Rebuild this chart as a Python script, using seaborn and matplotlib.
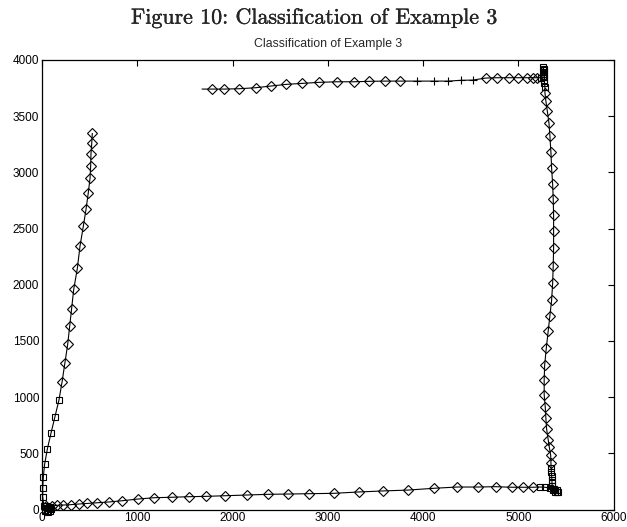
import matplotlib
matplotlib.use("Agg")
import matplotlib.pyplot as plt
import matplotlib.patheffects as pe
import seaborn as sns
import pandas as pd

# Trajectory samples (x, y) in travel order, with the class label of each sample:
# "D" = diamond class, "s" = square class, "+" = plus class, "-" = unlabelled start.
x_top = [1680, 1788, 1914, 2068, 2243, 2401, 2564, 2732, 2911, 3100, 3275, 3436, 3597, 3761,
         3940, 4115, 4265, 4398, 4521,
         4657, 4779, 4905, 5000, 5088, 5151, 5199]
y_top = [3741, 3741, 3741, 3744, 3753, 3768, 3783, 3792, 3801, 3806, 3806, 3810, 3812, 3812,
         3812, 3812, 3812, 3819, 3821,
         3839, 3842, 3842, 3842, 3842, 3842, 3842]
c_top = ["-"] + ["D"] * 13 + ["+"] * 5 + ["D"] * 7

x_corner_tr = [5235, 5255, 5262, 5265, 5260, 5270, 5274, 5270, 5275, 5275, 5280]
y_corner_tr = [3842, 3860, 3890, 3920, 3935, 3910, 3875, 3845, 3820, 3792, 3762]
c_corner_tr = ["s"] * 11

x_right = [5280, 5290, 5304, 5322, 5332, 5343, 5350, 5361, 5367, 5371, 5371, 5371, 5367, 5361,
           5350, 5332, 5315, 5294, 5277, 5272, 5272, 5283, 5290, 5298, 5315, 5325, 5340, 5343]
y_right = [3708, 3634, 3548, 3441, 3326, 3178, 3038, 2896, 2760, 2620, 2480, 2329, 2169, 2013,
           1861, 1722, 1585, 1434, 1283, 1152, 1021, 915, 811, 713, 618, 559, 485, 411]
c_right = ["D"] * 28

x_corner_br = [5345, 5348, 5350, 5352, 5354, 5356, 5370, 5390, 5410, 5420, 5405, 5385, 5360,
               5330, 5280, 5227]
y_corner_br = [370, 335, 300, 265, 235, 210, 185, 175, 170, 160, 155, 160, 175,
               190, 198, 200]
c_corner_br = ["s"] * 16

x_bottom = [5157, 5052, 4931, 4763, 4574, 4359, 4118, 3845, 3576, 3324, 3065, 2806, 2579, 2369,
            2149, 1921, 1722, 1543, 1368, 1179, 1005, 843, 703, 580, 476, 388, 301, 224, 154,
            102, 39]
y_bottom = [198, 198, 198, 203, 200, 200, 189, 173, 165, 156, 144, 141, 138, 135,
            129, 123, 117, 114, 109, 105, 93, 78, 67, 60, 55, 49, 43, 40, 37,
            34, 31]
c_bottom = ["D"] * 31

x_corner_bl = [70, 50, 30, 60, 85, 95, 60, 35, 55, 80, 40, 20]
y_corner_bl = [25, 10, -10, -20, -10, 5, 15, 0, -15, 20, 35, 30]
c_corner_bl = ["s"] * 12

x_left = [7, 7, 14, 28, 56, 94, 136, 178,
          210, 241, 270, 291, 312, 333, 371, 399, 434, 462, 486, 504, 511, 514, 522, 528]
y_left = [114, 189, 292, 405, 538, 678, 826, 974,
          1132, 1306, 1472, 1633, 1787, 1959, 2146, 2344, 2522, 2671, 2819, 2947, 3059, 3163,
          3258, 3347]
c_left = ["s"] * 8 + ["D"] * 16

x_vals = x_top + x_corner_tr + x_right + x_corner_br + x_bottom + x_corner_bl + x_left
y_vals = y_top + y_corner_tr + y_right + y_corner_br + y_bottom + y_corner_bl + y_left
classes = c_top + c_corner_tr + c_right + c_corner_br + c_bottom + c_corner_bl + c_left

x_ticks = [0, 1000, 2000, 3000, 4000, 5000, 6000]
y_ticks = [0, 500, 1000, 1500, 2000, 2500, 3000, 3500, 4000]

df = pd.DataFrame({"x": x_vals, "y": y_vals, "cls": classes, "order": range(len(x_vals))})

sns.set_style("white")
plt.rcParams["font.family"] = ["Liberation Sans", "DejaVu Sans"]

fig = plt.figure(figsize=(6.27, 5.27), dpi=100)
ax = fig.add_axes([0.067, 0.0332, 0.9115, 0.853])

# connecting path
sns.lineplot(data=df, x="x", y="y", sort=False, estimator=None, color="black",
             linewidth=0.8, ax=ax, zorder=2)

marker_style = {
    "D": dict(marker="D", ms=4.6, mfc="none", mec="black", mew=0.8),
    "s": dict(marker="s", ms=4.4, mfc="none", mec="black", mew=0.8),
    "+": dict(marker="+", ms=6, mec="black", mew=0.8),
}
for cls, style in marker_style.items():
    sub = df[df["cls"] == cls]
    sns.lineplot(data=sub, x="x", y="y", sort=False, estimator=None, linestyle="",
                 ax=ax, clip_on=False, zorder=3, **style)

ax.set_xlim(0, 6000)
ax.set_ylim(0, 4000)
ax.set_xticks(x_ticks)
ax.set_yticks(y_ticks)
ax.set_xticklabels([str(t) for t in x_ticks])
ax.set_yticklabels([str(t) for t in y_ticks])
ax.set_xlabel("")
ax.set_ylabel("")
ax.tick_params(direction="in", length=4.5, width=0.8, top=True, right=True,
               labelsize=8.5, colors="black", pad=2)
for sp in ax.spines.values():
    sp.set_visible(True)
    sp.set_color("black")
    sp.set_linewidth(0.9)

ax.set_title("Classification of Example 3", fontsize=8.8, pad=9)
fig.text(0.5, 0.966, "Figure 10: Classification of Example 3", ha="center", va="center",
         fontsize=15.8, family=["cmr10", "DejaVu Serif"],
         path_effects=[pe.withStroke(linewidth=0.2, foreground="black")])

fig.savefig("out.png", dpi=100, facecolor="white")
